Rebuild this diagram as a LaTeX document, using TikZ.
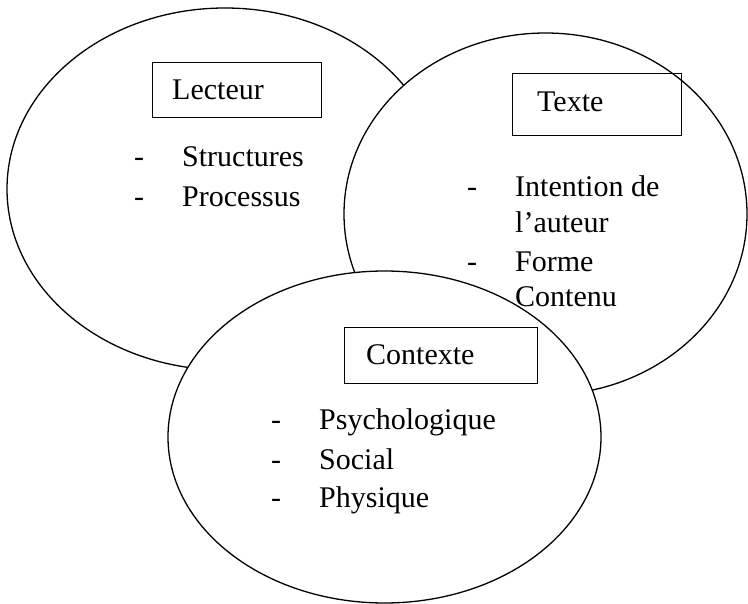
\documentclass[tikz,border=0pt]{standalone}
\usepackage{fontspec}
\setmainfont{Liberation Serif}
\usetikzlibrary{shapes.geometric}
\tikzset{
  circ/.style={ellipse, draw=black, fill=white, line width=1.3pt, inner sep=0pt},
  titlebox/.style={rectangle, draw=black, line width=1.3pt, inner sep=0pt, anchor=north west},
  lbl/.style={anchor=base west, inner sep=0pt, font=\fontsize{30}{35}\selectfont}
}
\begin{document}
\begin{tikzpicture}[x=1pt,y=-1pt]
\useasboundingbox (0,0) rectangle (748,604);
% ellipses
\node[circ, minimum width=436pt, minimum height=362pt] (lect) at (225,189) {};
\node[circ, minimum width=403pt, minimum height=362pt] (texte) at (545.5,214) {};
\node[circ, minimum width=433pt, minimum height=332pt] (ctx) at (384.5,437) {};
% boxes
\node[titlebox, minimum width=169pt, minimum height=55pt] (lbox) at (152,62) {};
\node[titlebox, minimum width=169pt, minimum height=62pt] (tbox) at (512,73) {};
\node[titlebox, minimum width=193pt, minimum height=56pt] (cbox) at (344,327) {};
% titles
\node[lbl] (ltitle) at (172,100) {Lecteur};
\node[lbl] (ttitle) at (537,112) {Texte};
\node[lbl] (ctitle) at (366,365) {Contexte};
% Lecteur items
\node[lbl] (ld1) at (134,167) {-};
\node[lbl] (li1) at (182,167) {Structures};
\node[lbl] (ld2) at (134,207) {-};
\node[lbl] (li2) at (182,207) {Processus};
% Texte items
\node[lbl] (td1) at (467,197) {-};
\node[lbl] (ti1) at (515,197) {Intention de};
\node[lbl] (ti1b) at (515,233) {l’auteur};
\node[lbl] (td2) at (467,272) {-};
\node[lbl] (ti2) at (515,272) {Forme};
\node[lbl] (ti3) at (515,307) {Contenu};
% Contexte items
\node[lbl] (cd1) at (271,430) {-};
\node[lbl] (ci1) at (319,430) {Psychologique};
\node[lbl] (cd2) at (271,469) {-};
\node[lbl] (ci2) at (319,469) {Social};
\node[lbl] (cd3) at (271,507) {-};
\node[lbl] (ci3) at (319,507) {Physique};
\end{tikzpicture}
\end{document}
